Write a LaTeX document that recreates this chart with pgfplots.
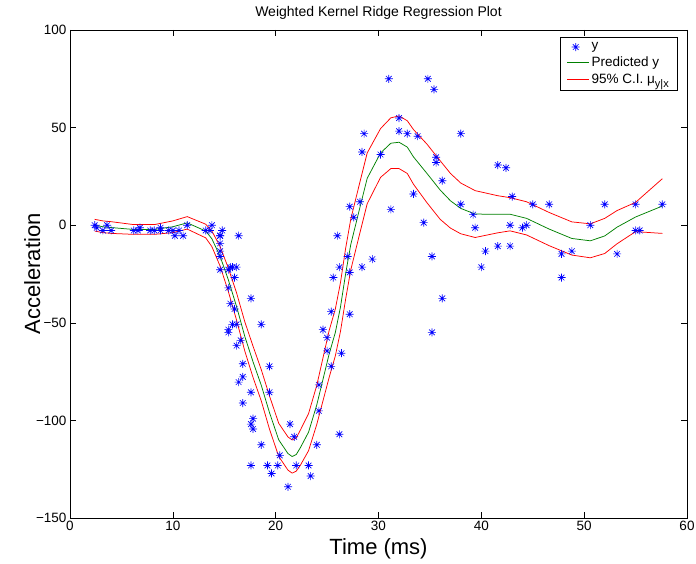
\documentclass[border=0pt]{standalone}
\usepackage{pgfplots}
\pgfplotsset{compat=1.18}
\usepackage{fontspec}
\setmainfont{Liberation Sans}
\definecolor{mgreen}{rgb}{0,0.5,0}
\pgfdeclareplotmark{matstar}{%
  \pgfpathmoveto{\pgfqpoint{-\pgfplotmarksize}{0pt}}%
  \pgfpathlineto{\pgfqpoint{\pgfplotmarksize}{0pt}}%
  \pgfpathmoveto{\pgfqpoint{0pt}{-\pgfplotmarksize}}%
  \pgfpathlineto{\pgfqpoint{0pt}{\pgfplotmarksize}}%
  \pgfpathmoveto{\pgfqpoint{-.7071\pgfplotmarksize}{-.7071\pgfplotmarksize}}%
  \pgfpathlineto{\pgfqpoint{.7071\pgfplotmarksize}{.7071\pgfplotmarksize}}%
  \pgfpathmoveto{\pgfqpoint{-.7071\pgfplotmarksize}{.7071\pgfplotmarksize}}%
  \pgfpathlineto{\pgfqpoint{.7071\pgfplotmarksize}{-.7071\pgfplotmarksize}}%
  \pgfusepathqstroke}
\pgfplotstableread{
t a
2.4 0.0
2.6 -1.3
3.2 -2.7
3.6 0.0
4.0 -2.7
6.2 -2.7
6.6 -2.7
6.8 -1.3
7.8 -2.7
8.2 -2.7
8.8 -1.3
8.8 -2.7
9.6 -2.7
10.0 -2.7
10.2 -5.4
10.6 -2.7
11.0 -5.4
11.4 0.0
13.2 -2.7
13.6 -2.7
13.8 0.0
14.6 -13.3
14.6 -5.4
14.6 -5.4
14.6 -9.3
14.6 -16.0
14.6 -22.8
14.8 -2.7
15.4 -22.8
15.4 -32.1
15.4 -53.5
15.4 -54.9
15.6 -40.2
15.6 -21.5
15.8 -21.5
15.8 -50.8
16.0 -42.9
16.0 -26.8
16.2 -21.5
16.2 -50.8
16.2 -61.7
16.4 -5.4
16.4 -80.4
16.6 -59.0
16.8 -71.0
16.8 -91.1
16.8 -77.7
17.6 -37.5
17.6 -85.6
17.6 -123.1
17.6 -101.9
17.8 -99.1
17.8 -104.4
18.6 -112.5
18.6 -50.8
19.2 -123.1
19.4 -85.6
19.4 -72.3
19.6 -127.2
20.2 -123.1
20.4 -117.9
21.2 -134.0
21.4 -101.9
21.8 -108.4
22.0 -123.1
23.2 -123.1
23.4 -128.5
24.0 -112.5
24.2 -95.1
24.2 -81.8
24.6 -53.5
25.0 -64.4
25.0 -57.6
25.4 -72.3
25.4 -44.3
25.6 -26.8
26.0 -5.4
26.2 -107.1
26.2 -21.5
26.4 -65.6
27.0 -16.0
27.2 -45.6
27.2 -24.2
27.2 9.5
27.6 4.0
28.2 12.0
28.4 -21.5
28.4 37.5
28.6 46.9
29.4 -17.4
30.2 36.2
31.0 75.0
31.2 8.1
32.0 54.9
32.0 48.2
32.8 46.9
33.4 16.0
33.8 45.6
34.4 1.3
34.8 75.0
35.2 -16.0
35.2 -54.9
35.4 69.6
35.6 34.8
35.6 32.1
36.2 -37.5
36.2 22.8
38.0 46.9
38.0 10.7
39.2 5.4
39.4 -1.3
40.0 -21.5
40.4 -13.3
41.6 30.8
41.6 -10.7
42.4 29.4
42.8 0.0
42.8 -10.7
43.0 14.7
44.0 -1.3
44.4 0.0
45.0 10.7
46.6 10.7
47.8 -26.8
47.8 -14.7
48.8 -13.3
50.6 0.0
52.0 10.7
53.2 -14.7
55.0 -2.7
55.0 10.7
55.4 -2.7
57.6 10.7
}\datatable
\pgfplotstableread{
t g up lo
2.4 0 3 -3
3.2 -0.8 2.2 -3.8
4.0 -1.2 1.8 -4.2
6.2 -2.2 0.3 -4.7
8.2 -2.2 0.3 -4.7
10.0 -0.8 2.2 -3.8
11.4 1.2 4.4 -2.0
13.2 -3 0.5 -6.5
13.8 -7 -3 -11
14.6 -16 -11 -21
15.4 -28 -22 -34
16.2 -41.7 -34.7 -48.7
17.0 -57 -49.5 -64.5
17.8 -70 -62 -78
18.6 -82 -74 -90
19.4 -96 -87.5 -104.5
20.3 -110 -101.5 -118.5
21.2 -117 -108.5 -125.5
21.6 -118.5 -110 -127
22.0 -117.5 -109 -126
22.4 -114 -105 -123
23.2 -106 -96.5 -115.5
24.0 -92 -82 -102
24.6 -79 -68 -90
25.2 -66 -54 -78
25.8 -55 -43 -67
26.3 -42 -29.5 -54.5
26.8 -25 -12 -38
27.3 -10 3 -23
28.0 5 18 -8
28.9 24 37 11
30.2 37 49.5 24.5
31.2 42 55 29
32.0 42.5 56 29
32.8 40 53.5 26.5
33.4 35 49 21
34.7 26.6 41.6 11.6
36.0 18 33 3
37.0 12.5 26.5 -1.5
38.0 8.6 21.6 -4.4
39.4 5.7 17.7 -6.3
41.6 5.6 15.1 -3.9
42.8 5.6 14.1 -2.9
44.4 3.5 12 -5
46.6 -2 6.5 -10.5
48.8 -6.8 1.7 -15.3
50.6 -8 0.7 -16.7
52.0 -5.5 3.5 -14.5
53.2 -1 7.5 -9.5
55.0 4.2 11.7 -3.3
57.6 9.8 23.8 -4.2
}\fittable
\begin{document}
\begin{tikzpicture}
\useasboundingbox (0,0) rectangle (696bp,564bp);
\begin{axis}[
  at={(70bp,46bp)}, anchor=south west,
  scale only axis, width=617bp, height=488bp,
  xmin=0, xmax=60, ymin=-150, ymax=100,
  xtick={0,10,...,60},
  ytick={-150,-100,-50,0,50,100},
  yticklabels={−150,−100,−50,0,50,100},
  tick align=inside, xtick pos=both, ytick pos=both,
  major tick length=6bp,
  tick style={black, line width=0.5bp},
  axis line style={line width=0.8bp},
  /pgf/number format/assume math mode=true,
  tick label style={font=\fontsize{13.5bp}{15bp}\selectfont},
  label style={font=\fontsize{22bp}{24bp}\selectfont},
  xlabel={Time (ms)},
  ylabel={Acceleration},
  xlabel style={at={(axis description cs:0.5,0)}, anchor=base, yshift=-36bp},
  ylabel style={at={(axis description cs:-0.0486,0.5)}, anchor=base, rotate=0},
  title={Weighted Kernel Ridge Regression Plot},
  title style={font=\fontsize{14bp}{15bp}\selectfont, at={(axis description cs:0.5,1)}, anchor=base, yshift=8bp},
  legend style={draw=black, line width=0.5bp, font=\fontsize{13.5bp}{14bp}\selectfont,
    at={(0.9854,0.9857)}, anchor=north east, inner xsep=7bp, inner ysep=3.5bp, row sep=1.5bp,
    cells={anchor=west}},
]
\addplot[only marks, mark=matstar, mark size=4bp, blue, mark options={line width=0.65bp}] table[x=t,y=a] {\datatable};
\addlegendentry{y}
\addplot[mgreen, line width=0.75bp, no marks, legend image code/.code={\draw[mgreen, line width=0.75bp] (0bp,0bp) -- (22bp,0bp);}] table[x=t,y=g] {\fittable};
\addlegendentry{Predicted y}
\addplot[red, line width=0.75bp, no marks, legend image code/.code={\draw[red, line width=0.75bp] (0bp,0bp) -- (22bp,0bp);}] table[x=t,y=up] {\fittable};
\addlegendentry{95\% C.I. μ\raisebox{-4bp}{\fontsize{11bp}{11bp}\selectfont y|x}}
\addplot[red, line width=0.75bp, no marks, forget plot] table[x=t,y=lo] {\fittable};
\end{axis}
\end{tikzpicture}
\end{document}
